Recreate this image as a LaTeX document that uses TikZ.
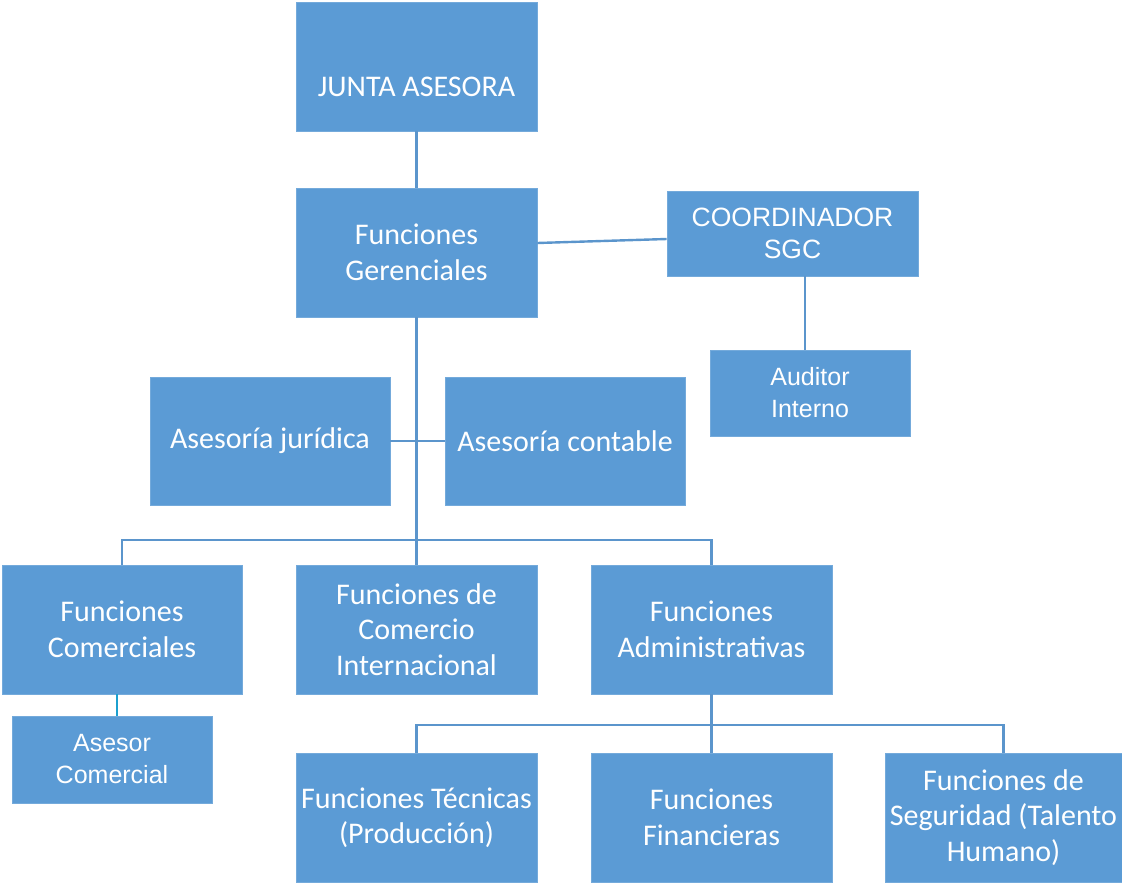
\documentclass[tikz,border=0pt]{standalone}
\usepackage{fontspec}
\setmainfont{Carlito}
\newfontfamily\arialf{Liberation Sans}
\definecolor{boxblue}{HTML}{5B9BD5}
\definecolor{lineblue}{HTML}{5B95CC}
\definecolor{cyanline}{HTML}{1CA0CF}
\begin{document}
\begin{tikzpicture}[x=1pt,y=-1pt,
  orgbox/.style={rectangle, fill=boxblue, draw=boxblue!85!white, line width=0.6pt, text=white, align=center, inner sep=0pt,
     font=\fontsize{30}{35.5}\selectfont},
  arialbox/.style={orgbox, font=\arialf\fontsize{26.5}{32}\selectfont},
  conn/.style={draw=lineblue, line width=2.4pt}]
\useasboundingbox (0,0) rectangle (1122,884);
\node[orgbox, minimum width=241pt, minimum height=129pt, text height=59pt, text depth=0pt] (junta) at (416.5,66.5) {JUNTA ASESORA};
\node[orgbox, minimum width=241pt, minimum height=129pt] (ger) at (416.5,252.5) {Funciones\\Gerenciales};
\node[arialbox, minimum width=251pt, minimum height=85pt] (coord) at (792.5,233.5) {COORDINADOR\\SGC};
\node[arialbox, minimum width=200pt, minimum height=86pt, font=\arialf\fontsize{25}{32}\selectfont] (aud) at (810,393) {Auditor\\Interno};
\node[orgbox, minimum width=240pt, minimum height=128pt] (jur) at (270,441) {Asesoría jurídica};
\node[orgbox, minimum width=240pt, minimum height=128pt] (cont) at (565,441) {Asesoría contable};
\node[orgbox, minimum width=240pt, minimum height=129pt] (com) at (122,629.5) {Funciones\\Comerciales};
\node[orgbox, minimum width=241pt, minimum height=129pt] (cint) at (416.5,629.5) {Funciones de\\Comercio\\Internacional};
\node[orgbox, minimum width=241pt, minimum height=129pt] (adm) at (711.5,629.5) {Funciones\\Administrativas};
\node[arialbox, minimum width=200pt, minimum height=87pt, font=\arialf\fontsize{25}{32}\selectfont] (asesor) at (112,759.5) {Asesor\\Comercial};
\node[orgbox, minimum width=241pt, minimum height=129pt] (tec) at (416.5,817.5) {Funciones Técnicas\\(Producción)};
\node[orgbox, minimum width=241pt, minimum height=129pt] (fin) at (711.5,817.5) {Funciones\\Financieras};
\node[orgbox, minimum width=237pt, minimum height=129pt] (seg) at (1003.5,817.5) {Funciones de\\Seguridad (Talento\\Humano)};
\coordinate (bar1) at (0,540);
\coordinate (bar2) at (0,725);
\coordinate (audx) at (805,0);
\coordinate (asx) at (117,0);
\path[conn] (junta.south) -- (ger.north);
\path[conn] ([yshift=9.5pt]ger.east) -- ([yshift=-5.5pt]coord.west);
\path[conn] (coord.south -| audx) -- (aud.north -| audx);
\path[conn] (ger.south) -- (cint.north);
\path[conn] (jur.east) -- (cont.west);
\path[conn] (com.north) -- (com.north |- bar1) -- (adm.north |- bar1) -- (adm.north);
\path[conn] (adm.south) -- (fin.north);
\path[conn] (tec.north) -- (tec.north |- bar2) -- (seg.north |- bar2) -- (seg.north);
\path[draw=cyanline, line width=2.4pt] (com.south -| asx) -- (asesor.north -| asx);
\end{tikzpicture}
\end{document}
